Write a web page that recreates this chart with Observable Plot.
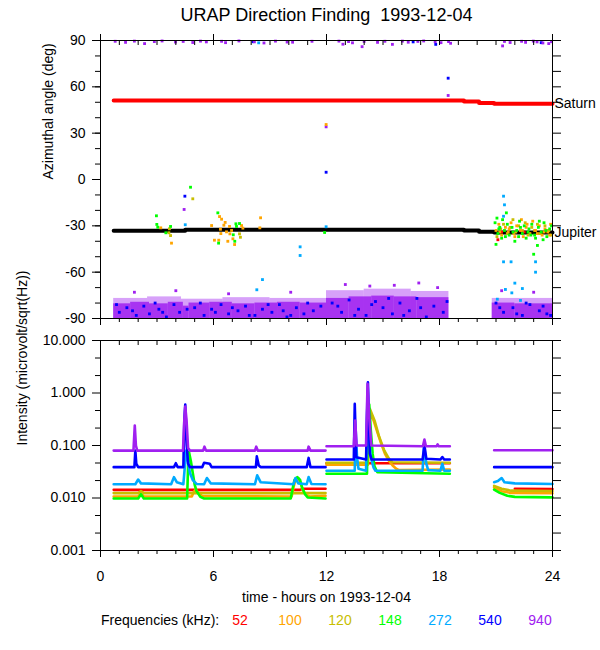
<!DOCTYPE html>
<html><head><meta charset="utf-8">
<script src="https://cdn.jsdelivr.net/npm/d3@7"></script>
<script src="https://cdn.jsdelivr.net/npm/@observablehq/plot@0.6"></script>
<style>
body{margin:0;background:#fff;}
#wrap{position:relative;width:600px;height:650px;background:#fff;font-family:"Liberation Sans",Arial,Helvetica,sans-serif;color:#000;overflow:hidden;}
#p1{position:absolute;left:0;top:0;}
#p2{position:absolute;left:0;top:330px;}
#title{position:absolute;left:0;width:653px;top:4px;text-align:center;font-size:18px;line-height:22px;}
.leg{position:absolute;top:611px;font-size:14px;line-height:18px;white-space:nowrap;}
</style></head><body>
<div id="wrap">
<div id="p1"></div><div id="p2"></div>
<div id="title">URAP Direction Finding&nbsp; 1993-12-04</div>
<div id="legend"></div>
</div>
<script>
// ---------- axis ticks ----------
const hoursMajor = [0, 6, 12, 18, 24];
const hoursMinor = [0,1,2,3,4,5,6,7,8,9,10,11,12,13,14,15,16,17,18,19,20,21,22,23,24];
const angleMajor = [-90, -60, -30, 0, 30, 60, 90];
const angleMinor = [-90,-80,-70,-60,-50,-40,-30,-20,-10,0,10,20,30,40,50,60,70,80,90];
const intensityMajor = [0.001, 0.01, 0.1, 1, 10];
const intensityMinor = [0.00215, 0.00464, 0.0215, 0.0464, 0.215, 0.464, 2.15, 4.64];

// ---------- legend ----------
const freqs = ["52", "100", "120", "148", "272", "540", "940"];
const freqColors = ["#ff0000", "#ffa500", "#c8be00", "#00ff00", "#00aaff", "#0000ff", "#a020f0"];
const [cRed, cOrange, cYellow, cGreen, cLBlue, cBlue, cPurple] = freqColors;

// ---------- top panel: ephemeris directions (hour, deg), step-after ----------
const saturnSteps = [[0.7, 51.2], [19.3, 50.5], [20.1, 49.6], [20.9, 49.0], [24, 49.0]];
const jupiterSteps = [[0.7, -33.2], [4.5, -32.5], [19.3, -33.0], [20.1, -33.8], [20.9, -34.3], [24, -34.3]];

// dense scatter band near -90 deg: [hourStart, hourEnd, degBottom, degTop]
const bandDense = [
  [0.7, 1.6, -90, -80.5], [1.6, 2.6, -90, -79.5], [2.6, 3.6, -90, -80.5], [3.6, 4.4, -90, -79.5],
  [4.4, 4.7, -90, -82], [4.7, 5.8, -90, -80], [5.8, 7.0, -90, -79.5], [7.0, 8.2, -90, -80.5],
  [8.2, 9.4, -90, -80], [9.4, 10.6, -90, -79.5], [10.6, 12.0, -90, -80],
  [12.0, 13.2, -90, -77], [13.2, 14.4, -90, -76], [14.4, 15.6, -90, -75.5], [15.6, 16.8, -90, -76],
  [16.8, 18.5, -90, -76.5], [20.8, 22.0, -90, -80], [22.0, 24.0, -90, -80.5]
];
const bandSparse = [
  [0.7, 2.5, -90, -77], [2.5, 4.3, -90, -76], [4.3, 6.5, -90, -77.5], [6.5, 9.0, -90, -76.5], [9.0, 12.0, -90, -77],
  [12.0, 14.0, -90, -72], [14.0, 16.5, -90, -71], [16.5, 18.5, -90, -72.5], [20.8, 24.0, -90, -77]
];

// scattered direction points (hour, deg)
const ptsPurple = [
  [0.78,89.5],[1.33,88.8],[1.8,89.6],[2.34,88],[2.86,89.3],[3.27,89.7],[3.98,89],[4.39,89.4],[4.9,88.7],
  [5.31,89.6],[5.62,89.1],[6.43,89.5],[6.64,88.6],[7.35,89.7],[8.17,89.2],[8.68,88.4],[9.29,89.6],[9.91,89],
  [10.2,88.9],[11.23,89.5],[12.66,89.6],[12.87,87.6],[13.17,89.3],[13.38,88.5],[13.89,86],[14.0,89.4],
  [14.71,88.8],[15.1,89.5],[15.5,87.5],[16.03,89.6],[16.34,88.9],[16.85,89.4],[17.16,89.7],[17.77,89.2],
  [18.08,88.6],[18.48,89.3],[18.59,88.2],[21.35,86.5],[21.45,89.4],[21.75,88.7],[22.36,89.5],[22.57,88.8],
  [22.98,89.6],[23.18,89.1],[23.49,88.4],[23.8,88],[23.95,89.2],
  [11.98,34.1],[18.46,54.4],[4.44,-19.4],
  [1.8,-73],[4.0,-72],[6.8,-74],[10.1,-73],[13.0,-68],[14.3,-69],[15.6,-68.5],[16.9,-67],[17.9,-70],[21.3,-72],[23.0,-73]
];
const ptsBlue = [
  [8.1,89.2],[16.6,89.1],[17.8,87.5],[23.4,88.6],[18.46,65.6],[11.98,4.7],[4.48,-10.8],
  [1.0,-86],[1.4,-83],[1.9,-88],[2.3,-82],[2.6,-87],[3.1,-84],[3.5,-89],[3.9,-81],[4.2,-86],[5.0,-83],
  [5.5,-88],[5.9,-84],[6.4,-81],[6.8,-87],[7.3,-85],[7.7,-82],[8.2,-88],[8.6,-84],[9.1,-86],[9.5,-81],
  [9.9,-89],[10.4,-83],[10.8,-87],[11.3,-85],[11.7,-82],[12.3,-80],[12.8,-86],[13.2,-78],[13.7,-84],
  [14.1,-88],[14.6,-79],[15.0,-83],[15.5,-87],[15.9,-80],[16.4,-85],[16.8,-77],[17.3,-89],[17.7,-82],
  [18.2,-86],[21.0,-80],[21.4,-86],[21.9,-83],[22.4,-88],[22.8,-81],[23.3,-85],[23.7,-87],
  [0.85,-81],[1.7,-85],[2.9,-80],[3.3,-86],[4.6,-84],[5.3,-80],[6.1,-86],[7.0,-83],[7.9,-88],[8.9,-81],
  [9.7,-85],[10.1,-88],[11.0,-80],[12.6,-82],[13.5,-88],[14.4,-81],[15.3,-77],[16.1,-88],[17.0,-83],[18.4,-79],
  [21.2,-83],[22.1,-87],[22.6,-80],[23.5,-82],[23.9,-88]
];
const ptsLBlue = [
  [8.4,88.5],[4.5,-29.3],[11.98,-30.6],[10.6,-43.6],[10.6,-49.2],[8.6,-64.8],[8.3,-71.4],
  [21.4,-10.8],[21.45,-16.4],[21.4,-23.8],[21.4,-53.3],[21.8,-53.3],[23.1,-53.3],[23.1,-60],[22.0,-67.1],
  [21.5,-71.2],[22.4,-70.6],[21.84,-73.4],[21.07,-77.5],[22.3,-78.3]
];
const ptsGreen = [
  [4.78,-5],[11.9,-34.3],
  [2.97,-23.5],[2.99,-29.1],[3.04,-30.9],[3.72,-30.4],[3.47,-34.5],
  [6.23,-21.6],[7.38,-28.5],[7.19,-28.7],[7.22,-30.4],[7.05,-35.8],[6.27,-41.2],[7.13,-40],
  [20.95,-28],[21.1,-35],[21.2,-31],[21.3,-38],[21.45,-33],[21.55,-21.6],[21.6,-29],[21.7,-36],[21.85,-31],
  [22.0,-40],[22.1,-33],[22.25,-27],[22.4,-35],[22.5,-30],[22.6,-38],[22.75,-32],[22.9,-29],[23.0,-48.4],
  [23.05,-36],[23.2,-42.7],[23.25,-31],[23.4,-34],[23.55,-28],[23.7,-37],[23.85,-32],[21.0,-42],
  [21.35,-26],[22.2,-37],[22.85,-36],[23.5,-39],[21.15,-32],[21.5,-37],[21.9,-34],[22.3,-31],[22.7,-34],
  [23.1,-38],[23.3,-27],[23.65,-33],[23.95,-30],[21.05,-25]
];
const ptsOrange = [
  [11.98,35.6],[8.5,-24.8],[8.46,-31.3],
  [3.2,-31.3],[3.77,-41.2],
  [6.32,-24],[6.43,-25.7],[6.62,-27.8],[5.9,-29.8],[6.55,-29.6],[6.85,-30.4],[7.49,-29.8],[6.37,-32.2],
  [7.56,-31.5],[6.69,-33.9],[6.96,-33],[6.39,-35],[6.87,-35.2],[6.05,-39.3],[6.28,-39.3],[6.76,-40],
  [7.03,-38.4],[7.12,-42.1],
  [21.0,-33],[21.15,-29],[21.3,-36],[21.5,-31],[21.65,-34],[21.8,-28],[21.95,-35],[22.1,-30],[22.3,-33],
  [22.45,-37],[22.6,-31],[22.8,-35],[22.95,-27],[23.1,-33],[23.3,-30],[23.45,-36],[23.6,-32],[23.75,-34],
  [23.9,-29],[22.35,-26],[21.2,-34],[21.7,-32],[22.0,-37],[22.65,-29],[23.2,-35],[23.55,-34],[23.85,-36]
];
const ptsYellow = [
  [4.9,-12.5],[3.66,-31.9],[3.63,-34.5],[3.72,-36.3],[7.38,-35.2],[7.43,-37.4],
  [21.05,-37],[21.25,-32],[21.4,-29],[21.6,-35],[21.75,-31],[21.9,-26],[22.05,-34],[22.2,-30],[22.4,-33],
  [22.55,-28],[22.7,-36],[22.9,-31],[23.05,-33],[23.2,-29],[23.35,-35],[23.6,-30],[23.8,-33],[23.95,-36]
];
const ptsRed = [[21.1,-39],[21.3,-34],[22.5,-34],[23.8,-33]];

// ---------- bottom panel: intensity (hour, microvolt/sqrt(Hz)); null = data gap ----------
const f52 = [[0.7,0.0143],[10.6,0.0143],[10.8,0.015],[11.95,0.015],null,[12.0,0.046],[18.55,0.046],null,[22.0,0.015],[24,0.0148]];
const f100 = [[0.7,0.0107],[2.0,0.0107],[2.15,0.0122],[2.3,0.0107],[4.85,0.0107],[4.95,0.013],[5.05,0.0145],[5.2,0.0125],[5.4,0.0108],
  [10.15,0.0107],[10.25,0.016],[10.35,0.022],[10.5,0.024],[10.6,0.02],[10.75,0.014],[10.9,0.0115],[11.1,0.0107],[11.95,0.011],null,
  [12.0,0.043],[14.2,0.043],[14.3,0.4],[14.5,0.3],[14.7,0.18],[14.9,0.11],[15.1,0.07],[15.3,0.052],[15.5,0.042],[15.7,0.036],[15.85,0.034],[18.55,0.035],null,
  [20.9,0.016],[21.3,0.0135],[21.8,0.0125],[24,0.0123]];
const f120 = [[0.7,0.0124],[2.0,0.0124],[2.15,0.0135],[2.3,0.0124],[11.95,0.0124],null,
  [12.0,0.047],[14.2,0.047],[14.3,0.5],[14.55,0.3],[14.8,0.145],[15.07,0.08],[15.33,0.055],[15.5,0.048],[18.55,0.047],null,
  [20.9,0.017],[21.3,0.015],[21.8,0.0138],[24,0.0136]];
const f148 = [[0.7,0.0098],[2.0,0.0098],[2.15,0.0118],[2.3,0.0098],[4.6,0.0098],[4.65,0.04],[4.7,0.075],[4.8,0.05],[4.9,0.03],[5.0,0.018],
  [5.1,0.0135],[5.3,0.0105],[5.5,0.0098],[10.1,0.0098],[10.2,0.015],[10.3,0.022],[10.45,0.025],[10.6,0.022],[10.7,0.016],[10.85,0.012],
  [11.0,0.0102],[11.95,0.0098],null,
  [12.0,0.029],[14.15,0.029],[14.2,0.3],[14.27,0.6],[14.35,0.2],[14.45,0.07],[14.55,0.04],[14.7,0.031],[18.55,0.029],null,
  [20.9,0.0145],[21.2,0.0125],[21.6,0.011],[22.0,0.0105],[24,0.0103]];
const f272 = [[0.7,0.0183],[1.85,0.0183],[2.0,0.0225],[2.15,0.019],[3.75,0.0183],[3.9,0.025],[4.05,0.02],[4.4,0.0183],[4.55,0.08],
  [4.65,0.05],[4.75,0.03],[4.9,0.022],[5.1,0.0185],[5.5,0.0183],[5.65,0.024],[5.85,0.019],[8.2,0.0183],[8.32,0.027],[8.5,0.02],
  [10.25,0.0183],[10.35,0.024],[10.5,0.019],[10.95,0.0183],[11.05,0.025],[11.2,0.0185],[11.95,0.0183],null,
  [12.0,0.033],[13.5,0.033],[13.55,0.2],[13.62,0.06],[13.7,0.036],[14.1,0.033],[14.17,0.8],[14.25,0.15],[14.35,0.06],[14.5,0.038],
  [14.6,0.033],[17.1,0.033],[17.18,0.1],[17.3,0.045],[17.4,0.034],[18.05,0.033],[18.15,0.045],[18.25,0.033],[18.55,0.033],null,
  [20.9,0.02],[21.1,0.021],[21.3,0.024],[21.45,0.02],[22.0,0.019],[24,0.0185]];
const f540 = [[0.7,0.0387],[1.8,0.0387],[1.85,0.08],[1.9,0.045],[2.0,0.0387],[3.9,0.0387],[4.0,0.046],[4.1,0.0387],[4.4,0.0387],
  [4.45,0.3],[4.5,0.6],[4.58,0.1],[4.65,0.045],[4.75,0.0387],[5.4,0.0387],[5.5,0.047],[5.8,0.045],[5.9,0.0387],[8.25,0.0387],
  [8.3,0.062],[8.4,0.042],[8.5,0.0387],[10.95,0.0387],[11.05,0.058],[11.15,0.0387],[11.95,0.0387],null,
  [12.0,0.054],[13.45,0.054],[13.5,0.62],[13.58,0.06],[14.1,0.054],[14.2,1.6],[14.3,0.07],[14.4,0.054],[17.1,0.054],[17.2,0.1],
  [17.3,0.056],[18.05,0.054],[18.15,0.06],[18.25,0.054],[18.55,0.054],null,
  [20.9,0.0387],[24,0.0387]];
const f940 = [[0.7,0.08],[1.75,0.08],[1.82,0.24],[1.88,0.1],[1.95,0.08],[4.38,0.08],[4.45,0.3],[4.5,0.55],[4.57,0.3],[4.65,0.09],
  [4.75,0.08],[5.45,0.08],[5.52,0.095],[5.6,0.08],[8.2,0.08],[8.27,0.095],[8.35,0.08],[11.0,0.08],[11.05,0.095],[11.15,0.08],[11.95,0.08],null,
  [12.0,0.097],[13.45,0.097],[13.52,0.3],[13.6,0.1],[14.1,0.1],[14.18,1.5],[14.28,0.3],[14.38,0.1],[17.12,0.097],[17.2,0.13],
  [17.28,0.097],[17.85,0.097],[17.9,0.105],[17.95,0.097],[18.55,0.097],null,
  [20.9,0.081],[24,0.081]];

const series = [f52, f100, f120, f148, f272, f540, f940];

// ---------- helpers ----------
const font = "Liberation Sans, Arial, Helvetica, sans-serif";
const blank = () => "";
const xy = arr => arr.map(p => p ? {t: p[0], v: p[1]} : {t: NaN, v: NaN});
const dots = (arr, color) => Plot.dot(arr, {x: d => d[0], y: d => d[1], fill: color, r: 1.6, symbol: "square"});
const ax = (fn, ticks, opts) => fn(ticks, {label: null, ...opts});

// ---------- top panel ----------
const chartTop = Plot.plot({
  width: 600, height: 330,
  marginLeft: 100, marginRight: 48, marginTop: 40, marginBottom: 12,
  x: {domain: [0, 24], axis: null},
  y: {domain: [-90, 90], axis: null},
  style: {fontFamily: font, fontSize: "14px", color: "black", background: "transparent", overflow: "visible"},
  marks: [
    Plot.rect(bandSparse, {x1: d => d[0], x2: d => d[1], y1: d => d[2], y2: d => d[3], fill: cPurple, fillOpacity: 0.42}),
    Plot.rect(bandDense, {x1: d => d[0], x2: d => d[1], y1: d => d[2], y2: d => d[3], fill: cPurple, fillOpacity: 0.85}),
    Plot.line(saturnSteps, {x: d => d[0], y: d => d[1], stroke: cRed, strokeWidth: 4, curve: "step-after"}),
    Plot.line(jupiterSteps, {x: d => d[0], y: d => d[1], stroke: "black", strokeWidth: 4, curve: "step-after"}),
    dots(ptsBlue, cBlue),
    dots(ptsPurple, cPurple),
    dots(ptsLBlue, cLBlue),
    dots(ptsRed, cRed),
    dots(ptsYellow, cYellow),
    dots(ptsOrange, cOrange),
    dots(ptsGreen, cGreen),
    Plot.text([saturnSteps[saturnSteps.length - 1]], {x: d => d[0], y: d => d[1], text: () => "Saturn", textAnchor: "start", dx: 2, fontSize: 14}),
    Plot.text([jupiterSteps[jupiterSteps.length - 1]], {x: d => d[0], y: d => d[1], text: () => "Jupiter", textAnchor: "start", dx: 2, fontSize: 14}),
    ax(Plot.axisY, angleMinor, {anchor: "left", tickSize: 5, tickFormat: blank}),
    ax(Plot.axisY, angleMajor, {anchor: "left", tickSize: 8, tickPadding: 7, tickFormat: d => String(d), fontSize: 14}),
    ax(Plot.axisY, angleMinor, {anchor: "right", tickSize: 8, tickFormat: blank}),
    ax(Plot.axisX, hoursMinor, {anchor: "bottom", tickSize: 4, tickFormat: blank}),
    ax(Plot.axisX, hoursMajor, {anchor: "bottom", tickSize: 7, tickFormat: blank}),
    ax(Plot.axisX, hoursMinor, {anchor: "top", tickSize: -4, tickFormat: blank}),
    ax(Plot.axisX, hoursMajor, {anchor: "top", tickSize: 7, tickFormat: blank}),
    Plot.frame({stroke: "black"}),
    Plot.text(["Azimuthal angle (deg)"], {frameAnchor: "left", dx: -52, rotate: -90, fontSize: 14})
  ]
});
document.getElementById("p1").appendChild(chartTop);

// ---------- bottom panel ----------
const chartBottom = Plot.plot({
  width: 600, height: 280,
  marginLeft: 100, marginRight: 48, marginTop: 10, marginBottom: 60,
  x: {domain: [0, 24], axis: null},
  y: {type: "log", domain: [0.001, 10], axis: null},
  style: {fontFamily: font, fontSize: "14px", color: "black", background: "transparent", overflow: "visible"},
  marks: [
    ...series.map((s, i) => Plot.line(xy(s), {x: "t", y: "v", stroke: freqColors[i], strokeWidth: 2.6})),
    ax(Plot.axisY, intensityMinor, {anchor: "left", tickSize: 5, tickFormat: blank}),
    ax(Plot.axisY, intensityMajor, {anchor: "left", tickSize: 8, tickPadding: 7, tickFormat: d3.format(".3f"), fontSize: 14}),
    ax(Plot.axisY, [...intensityMajor, ...intensityMinor], {anchor: "right", tickSize: 8, tickFormat: blank}),
    ax(Plot.axisX, hoursMinor, {anchor: "bottom", tickSize: 4, tickFormat: blank}),
    ax(Plot.axisX, hoursMajor, {anchor: "bottom", tickSize: 7, tickPadding: 14, tickFormat: d => String(d), fontSize: 14}),
    ax(Plot.axisX, hoursMinor, {anchor: "top", tickSize: -4, tickFormat: blank}),
    ax(Plot.axisX, hoursMajor, {anchor: "top", tickSize: -6, tickFormat: blank}),
    Plot.frame({stroke: "black"}),
    Plot.text(["Intensity (microvolt/sqrt(Hz))"], {frameAnchor: "left", dx: -78, rotate: -90, fontSize: 14}),
    Plot.text(["time - hours on 1993-12-04"], {frameAnchor: "bottom", dy: 51, fontSize: 14})
  ]
});
document.getElementById("p2").appendChild(chartBottom);

// ---------- legend ----------
const legend = document.getElementById("legend");
const lab = document.createElement("span");
lab.className = "leg"; lab.style.left = "101px"; lab.textContent = "Frequencies (kHz):";
legend.appendChild(lab);
freqs.forEach((f, i) => {
  const s = document.createElement("span");
  s.className = "leg";
  s.style.left = (240 + i * 50) + "px";
  s.style.transform = "translateX(-50%)";
  s.style.color = freqColors[i];
  s.textContent = f;
  legend.appendChild(s);
});
</script>
</body></html>
